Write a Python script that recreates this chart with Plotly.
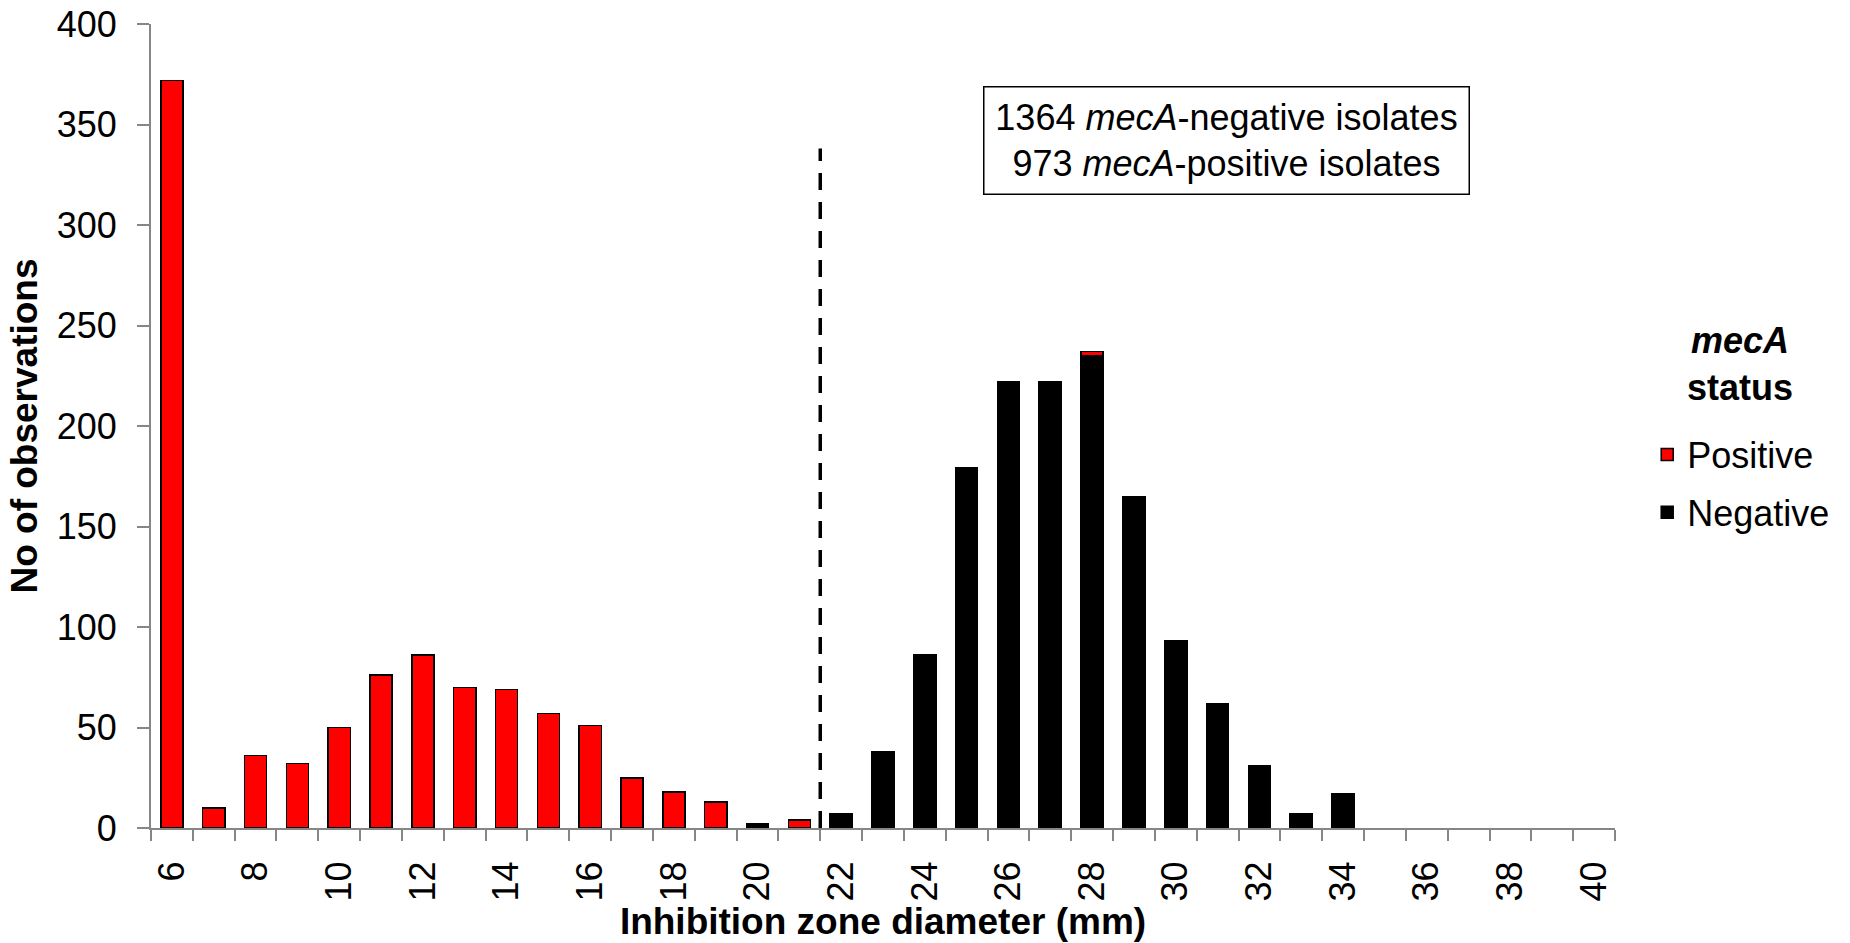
import plotly.graph_objects as go

# Data
zone_mm = list(range(6, 41))
positive = [372, 10, 36, 32, 50, 76, 86, 70, 69, 57, 51, 25, 18, 13, 0, 4,
            0, 0, 0, 0, 0, 0, 2, 0, 0, 0, 0, 0, 0, 0, 0, 0, 0, 0, 0]
negative = [0, 0, 0, 0, 0, 0, 0, 0, 0, 0, 0, 0, 0, 0, 2, 0,
            7, 38, 86, 179, 222, 222, 235, 165, 93, 62, 31, 7, 17, 0, 0, 0, 0, 0, 0]
tick_labels = [str(v) for v in range(6, 41, 2)]
breakpoint_mm = 21.5
breakpoint_top = 338

FONT = "Liberation Sans, Arial, sans-serif"
AXIS_GRAY = "#868686"


def nz(vals):
    # zero-height bars are not drawn (avoid stray outline marks)
    return [v if v else None for v in vals]


fig = go.Figure()
fig.add_trace(go.Bar(
    x=zone_mm, y=nz(negative), name="Negative", legendgroup="neg", legendrank=2,
    marker=dict(color="#000000", line=dict(color="#000000", width=1.5)),
))
fig.add_trace(go.Bar(
    x=zone_mm, y=nz(positive), name="Positive", legendgroup="pos", legendrank=1,
    marker=dict(color="#FF0000", line=dict(color="#000000", width=1.5)),
))

fig.add_shape(type="line", xref="x", yref="y",
              x0=breakpoint_mm, x1=breakpoint_mm, y0=0, y1=breakpoint_top,
              line=dict(color="#000000", width=3.5, dash="17px,12px"))

fig.add_annotation(
    xref="paper", yref="paper", x=0.7345, y=0.8545, xanchor="center", yanchor="middle",
    text="1364 <i>mecA</i>-negative isolates<br>973 <i>mecA</i>-positive isolates",
    showarrow=False, align="center",
    font=dict(family=FONT, size=36, color="#000000"),
    bordercolor="#000000", borderwidth=1.5, borderpad=5,
    width=474, height=96, bgcolor="white",
)

# legend heading
fig.add_annotation(
    xref="paper", yref="paper", x=1.0854, y=0.577, xanchor="center", yanchor="middle",
    text="<b><i>mecA</i><br>status</b>", showarrow=False, align="center",
    font=dict(family=FONT, size=36, color="#000000"),
)

fig.update_layout(
    width=1850, height=943,
    barmode="stack", bargap=0.47,
    plot_bgcolor="white", paper_bgcolor="white",
    margin=dict(l=151, r=235, t=24, b=115, autoexpand=False),
    font=dict(family=FONT, size=36, color="#000000"),
    showlegend=True,
    legend=dict(
        traceorder="grouped",
        x=1.022, xanchor="left", y=0.4285, yanchor="middle",
        font=dict(family=FONT, size=36),
        tracegroupgap=8,
    ),
    xaxis=dict(
        automargin=False,
        range=[5.5, 40.5],
        tickmode="array", tickvals=list(range(6, 41, 2)), ticktext=tick_labels,
        ticks="", tickangle=-90, ticklabelstandoff=17,
        showline=True, linecolor=AXIS_GRAY, linewidth=2,
        showgrid=False, zeroline=False,
        minor=dict(ticks="outside", tick0=5.5, dtick=1, ticklen=11,
                   tickcolor=AXIS_GRAY, tickwidth=2, showgrid=False),
        tickfont=dict(family=FONT, size=36),
        title=dict(text="<b>Inhibition zone diameter (mm)</b>",
                   font=dict(family=FONT, size=37), standoff=5),
    ),
    yaxis=dict(
        automargin=False,
        range=[0, 400], dtick=50,
        ticks="outside", ticklen=12, tickcolor=AXIS_GRAY, tickwidth=2,
        ticklabelstandoff=13,
        showline=True, linecolor=AXIS_GRAY, linewidth=2,
        showgrid=False, zeroline=False,
        tickfont=dict(family=FONT, size=36),
        title=dict(text="<b>No of observations</b>",
                   font=dict(family=FONT, size=37), standoff=8),
    ),
)

fig.write_html(
    "out.html",
    config={"displayModeBar": False},
    post_script="document.body.style.margin='0';document.body.style.overflow='hidden';",
)
